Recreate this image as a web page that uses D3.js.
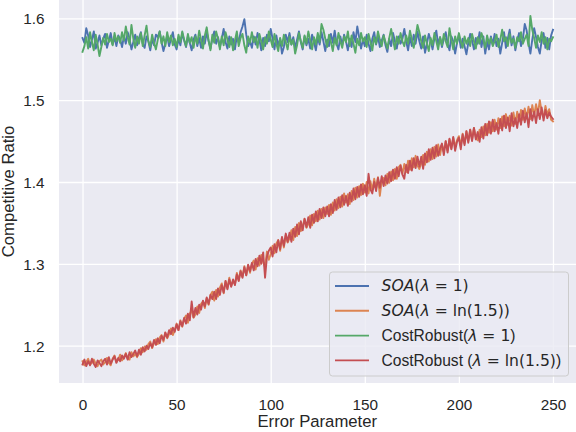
<!DOCTYPE html>
<html><head><meta charset="utf-8">
<script src="https://cdn.jsdelivr.net/npm/d3@7"></script>
<style>body{margin:0;background:#fff}svg{display:block}</style>
</head><body>
<svg id="c" width="576" height="432"></svg>
<script>
const xTicks = [0, 50, 100, 150, 200, 250];
const yTicks = [1.2, 1.3, 1.4, 1.5, 1.6];

const soa1 = [
1.576,1.570,1.588,1.579,1.565,1.574,1.584,1.563,1.570,1.579,
1.567,1.575,1.581,1.564,1.573,1.582,1.568,1.577,1.566,1.579,
1.574,1.565,1.578,1.569,1.583,1.575,1.562,1.571,1.580,1.567,
1.576,1.583,1.569,1.564,1.578,1.572,1.561,1.575,1.567,1.580,
1.577,1.584,1.571,1.560,1.569,1.579,1.566,1.575,1.583,1.568,
1.562,1.575,1.567,1.582,1.573,1.565,1.578,1.570,1.561,1.574,
1.580,1.566,1.576,1.564,1.578,1.569,1.583,1.572,1.563,1.575,
1.584,1.569,1.577,1.565,1.575,1.587,1.571,1.563,1.578,1.568,
1.575,1.562,1.579,1.570,1.583,1.590,1.599,1.580,1.566,1.572,
1.564,1.578,1.568,1.582,1.574,1.561,1.576,1.566,1.580,1.572,
1.587,1.575,1.562,1.579,1.566,1.575,1.557,1.565,1.580,1.571,
1.582,1.568,1.577,1.564,1.574,1.584,1.571,1.562,1.578,1.567,
1.575,1.563,1.580,1.571,1.561,1.577,1.568,1.583,1.572,1.560,
1.574,1.566,1.581,1.570,1.585,1.569,1.562,1.578,1.567,1.580,
1.572,1.561,1.575,1.565,1.583,1.571,1.590,1.577,1.563,1.574,
1.566,1.580,1.569,1.560,1.575,1.583,1.568,1.578,1.565,1.573,
1.580,1.567,1.559,1.575,1.566,1.582,1.572,1.563,1.578,1.569,
1.575,1.587,1.572,1.561,1.577,1.566,1.580,1.569,1.584,1.572,
1.563,1.578,1.558,1.569,1.581,1.573,1.562,1.576,1.585,1.568,
1.577,1.565,1.575,1.583,1.569,1.561,1.578,1.572,1.557,1.570,
1.580,1.564,1.575,1.566,1.556,1.570,1.581,1.573,1.562,1.576,
1.569,1.583,1.565,1.578,1.557,1.572,1.562,1.578,1.568,1.581,
1.566,1.575,1.557,1.570,1.583,1.564,1.575,1.586,1.567,1.578,
1.561,1.573,1.582,1.566,1.575,1.593,1.585,1.570,1.557,1.574,
1.588,1.577,1.565,1.557,1.573,1.582,1.564,1.576,1.562,1.579,
1.586];

const soaLn = [
1.181,1.176,1.180,1.184,1.177,1.179,1.183,1.178,1.175,1.181,
1.183,1.177,1.180,1.185,1.179,1.176,1.184,1.188,1.180,1.183,
1.189,1.182,1.186,1.191,1.184,1.183,1.192,1.187,1.190,1.186,
1.190,1.197,1.192,1.199,1.195,1.202,1.205,1.197,1.203,1.208,
1.202,1.210,1.213,1.205,1.216,1.209,1.214,1.221,1.213,1.219,
1.227,1.219,1.231,1.223,1.233,1.237,1.228,1.239,1.243,1.234,
1.238,1.248,1.240,1.251,1.254,1.246,1.258,1.250,1.262,1.266,
1.255,1.268,1.260,1.271,1.276,1.264,1.279,1.270,1.283,1.273,
1.279,1.275,1.289,1.280,1.292,1.284,1.297,1.286,1.298,1.289,
1.300,1.304,1.293,1.307,1.298,1.311,1.302,1.296,1.315,1.305,
1.312,1.322,1.313,1.325,1.329,1.316,1.332,1.320,1.335,1.326,
1.331,1.341,1.329,1.345,1.334,1.350,1.340,1.346,1.355,1.344,
1.349,1.359,1.347,1.361,1.352,1.365,1.354,1.367,1.356,1.369,
1.361,1.372,1.360,1.375,1.365,1.379,1.368,1.382,1.370,1.386,
1.375,1.385,1.373,1.389,1.378,1.393,1.381,1.395,1.384,1.398,
1.387,1.400,1.386,1.401,1.390,1.404,1.392,1.406,1.383,1.402,
1.405,1.396,1.410,1.399,1.413,1.402,1.416,1.404,1.418,1.421,
1.410,1.422,1.412,1.426,1.415,1.429,1.418,1.432,1.420,1.416,
1.423,1.433,1.421,1.437,1.425,1.440,1.428,1.443,1.431,1.446,
1.433,1.446,1.437,1.450,1.438,1.452,1.441,1.454,1.443,1.451,
1.456,1.444,1.459,1.447,1.462,1.450,1.464,1.452,1.466,1.455,
1.451,1.464,1.455,1.468,1.457,1.471,1.460,1.473,1.462,1.476,
1.464,1.478,1.466,1.480,1.468,1.483,1.470,1.481,1.469,1.485,
1.471,1.486,1.474,1.488,1.476,1.490,1.478,1.492,1.477,1.494,
1.481,1.495,1.483,1.500,1.485,1.479,1.493,1.482,1.489,1.476,
1.474];

const cr1 = [
1.559,1.566,1.577,1.563,1.583,1.571,1.561,1.580,1.568,1.554,
1.565,1.576,1.568,1.581,1.571,1.575,1.567,1.582,1.572,1.578,
1.570,1.583,1.573,1.590,1.577,1.568,1.592,1.575,1.564,1.578,
1.569,1.582,1.566,1.579,1.591,1.572,1.565,1.580,1.570,1.562,
1.574,1.584,1.569,1.578,1.566,1.583,1.571,1.579,1.567,1.575,
1.565,1.580,1.571,1.584,1.574,1.566,1.581,1.570,1.577,1.564,
1.578,1.569,1.585,1.574,1.563,1.579,1.589,1.573,1.561,1.580,
1.570,1.584,1.575,1.562,1.578,1.567,1.583,1.574,1.565,1.577,
1.561,1.573,1.584,1.566,1.576,1.581,1.567,1.558,1.578,1.570,
1.583,1.571,1.577,1.564,1.581,1.572,1.562,1.577,1.569,1.584,
1.574,1.565,1.581,1.569,1.560,1.576,1.566,1.580,1.571,1.562,
1.578,1.568,1.574,1.557,1.567,1.582,1.572,1.564,1.579,1.569,
1.584,1.573,1.562,1.577,1.568,1.582,1.571,1.593,1.586,1.575,
1.565,1.580,1.571,1.560,1.576,1.567,1.582,1.572,1.564,1.578,
1.571,1.584,1.566,1.579,1.569,1.558,1.575,1.567,1.582,1.572,
1.577,1.565,1.581,1.571,1.561,1.577,1.569,1.584,1.574,1.566,
1.579,1.571,1.563,1.576,1.587,1.574,1.562,1.578,1.569,1.582,
1.572,1.566,1.579,1.569,1.585,1.574,1.564,1.577,1.592,1.583,
1.572,1.564,1.579,1.569,1.560,1.576,1.567,1.582,1.572,1.562,
1.577,1.567,1.581,1.572,1.565,1.588,1.574,1.562,1.578,1.569,
1.582,1.572,1.564,1.578,1.569,1.576,1.566,1.581,1.572,1.563,
1.577,1.569,1.582,1.574,1.564,1.579,1.569,1.576,1.566,1.572,
1.580,1.565,1.574,1.586,1.572,1.577,1.566,1.581,1.570,1.575,
1.564,1.577,1.572,1.583,1.569,1.575,1.580,1.566,1.603,1.586,
1.576,1.564,1.579,1.571,1.583,1.569,1.577,1.562,1.575,1.572,
1.577];

const crLn = [
1.177,1.183,1.175,1.181,1.176,1.184,1.178,1.174,1.182,1.179,
1.175,1.181,1.184,1.177,1.186,1.178,1.183,1.187,1.179,1.185,
1.181,1.188,1.184,1.190,1.183,1.192,1.186,1.190,1.194,1.187,
1.195,1.189,1.198,1.193,1.200,1.196,1.203,1.198,1.207,1.201,
1.209,1.203,1.212,1.207,1.216,1.210,1.219,1.214,1.222,1.217,
1.226,1.219,1.230,1.224,1.234,1.227,1.239,1.231,1.254,1.235,
1.246,1.238,1.250,1.244,1.255,1.248,1.259,1.251,1.262,1.257,
1.266,1.257,1.270,1.262,1.274,1.265,1.279,1.269,1.281,1.272,
1.281,1.274,1.287,1.279,1.291,1.283,1.296,1.286,1.299,1.291,
1.301,1.292,1.306,1.297,1.310,1.300,1.314,1.283,1.309,1.316,
1.320,1.309,1.324,1.314,1.329,1.318,1.333,1.322,1.337,1.327,
1.338,1.327,1.343,1.333,1.348,1.336,1.352,1.341,1.355,1.345,
1.357,1.344,1.360,1.350,1.364,1.352,1.367,1.356,1.369,1.358,
1.370,1.358,1.373,1.362,1.378,1.366,1.381,1.369,1.384,1.372,
1.383,1.371,1.387,1.376,1.392,1.379,1.394,1.382,1.397,1.385,
1.396,1.383,1.410,1.391,1.386,1.400,1.389,1.405,1.393,1.407,
1.395,1.408,1.398,1.412,1.401,1.415,1.404,1.418,1.407,1.420,
1.409,1.404,1.421,1.411,1.426,1.414,1.429,1.417,1.431,1.419,
1.431,1.416,1.435,1.424,1.440,1.427,1.442,1.429,1.445,1.432,
1.441,1.447,1.433,1.450,1.436,1.453,1.440,1.455,1.438,1.449,
1.454,1.440,1.458,1.445,1.462,1.448,1.464,1.450,1.466,1.452,
1.461,1.449,1.467,1.453,1.471,1.457,1.474,1.459,1.476,1.462,
1.472,1.459,1.477,1.463,1.481,1.466,1.479,1.462,1.484,1.468,
1.478,1.466,1.483,1.470,1.487,1.473,1.484,1.467,1.489,1.475,
1.486,1.472,1.489,1.477,1.491,1.475,1.488,1.478,1.485,1.480,
1.477];

const colors = ["#4c72b0", "#dd8452", "#55a868", "#c44e52"];
const allSeries = [soa1, soaLn, cr1, crLn];

const svg = d3.select("#c");
const L = 59, R = 576.5, T = 0, B = 383;
const x = d3.scaleLinear().domain([-12.5, 262.5]).range([L, R]);
const y = d3.scaleLinear().domain([1.1544, 1.6224]).range([B, T]);

svg.append("rect").attr("x", L).attr("y", T).attr("width", R - L).attr("height", B - T).attr("fill", "#eaeaf2");
svg.append("clipPath").attr("id", "clip").append("rect").attr("x", L).attr("y", T).attr("width", R - L).attr("height", B - T);

const tickFont = "Liberation Sans, Arial, sans-serif";

const gx = svg.append("g").attr("transform", `translate(0,${B})`)
  .call(d3.axisBottom(x).tickValues(xTicks).tickSize(-(B - T)).tickPadding(0).tickFormat(d3.format("d")));
gx.select(".domain").remove();
gx.selectAll("line").attr("stroke", "#fff").attr("stroke-width", 1.3);
gx.selectAll("text").attr("fill", "#262626").attr("font-family", tickFont).attr("font-size", 15.3)
  .attr("dy", null).attr("y", 27);

const gy = svg.append("g").attr("transform", `translate(${L},0)`)
  .call(d3.axisLeft(y).tickValues(yTicks).tickSize(-(R - L)).tickPadding(0).tickFormat(d3.format(".1f")));
gy.select(".domain").remove();
gy.selectAll("line").attr("stroke", "#fff").attr("stroke-width", 1.3);
gy.selectAll("text").attr("fill", "#262626").attr("font-family", tickFont).attr("font-size", 15.3)
  .attr("x", -14.5).attr("dy", "0.35em");

const line = d3.line().x((d, i) => x(i)).y(d => y(d));
const plot = svg.append("g").attr("clip-path", "url(#clip)");
allSeries.forEach((s, k) => {
  plot.append("path").datum(s).attr("d", line).attr("fill", "none")
    .attr("stroke", colors[k]).attr("stroke-width", 1.9).attr("stroke-linejoin", "round").attr("stroke-linecap", "square");
});

svg.append("text").attr("x", (L + R) / 2 - 0.5).attr("y", 427).attr("text-anchor", "middle")
  .attr("font-family", tickFont).attr("font-size", 16.7).attr("fill", "#262626").text("Error Parameter");
svg.append("text").attr("transform", `translate(14,${(T + B) / 2}) rotate(-90)`).attr("text-anchor", "middle")
  .attr("font-family", tickFont).attr("font-size", 16.7).attr("fill", "#262626").text("Competitive Ratio");

// legend
const lg = svg.append("g");
lg.append("rect").attr("x", 329.5).attr("y", 272).attr("width", 239).attr("height", 104).attr("rx", 3)
  .attr("fill", "#eaeaf2").attr("fill-opacity", 0.8).attr("stroke", "#cccccc").attr("stroke-width", 1);
const math = "DejaVu Sans, sans-serif";
const legendParts = [
  [["SOA", math, "italic"], ["(", math], ["λ", math, "italic"], [" = 1)", math]],
  [["SOA", math, "italic"], ["(", math], ["λ", math, "italic"], [" = ln(1.5))", math]],
  [["CostRobust(", tickFont], ["λ", math, "italic"], [" = 1", math], [")", tickFont]],
  [["CostRobust (", tickFont], ["λ", math, "italic"], [" = ln(1.5)", math], [")", tickFont]]
];
legendParts.forEach((parts, i) => {
  const cy = 286 + i * 24.8;
  lg.append("line").attr("x1", 335).attr("x2", 369).attr("y1", cy).attr("y2", cy)
    .attr("stroke", colors[i]).attr("stroke-width", 1.9);
  const t = lg.append("text").attr("x", 381.5).attr("y", cy).attr("dy", "0.35em")
    .attr("font-size", 15.6).attr("fill", "#262626");
  parts.forEach(p => {
    t.append("tspan").attr("font-family", p[1]).attr("font-style", p[2] || "normal")
      .attr("xml:space", "preserve").text(p[0]);
  });
});
</script>
</body></html>
